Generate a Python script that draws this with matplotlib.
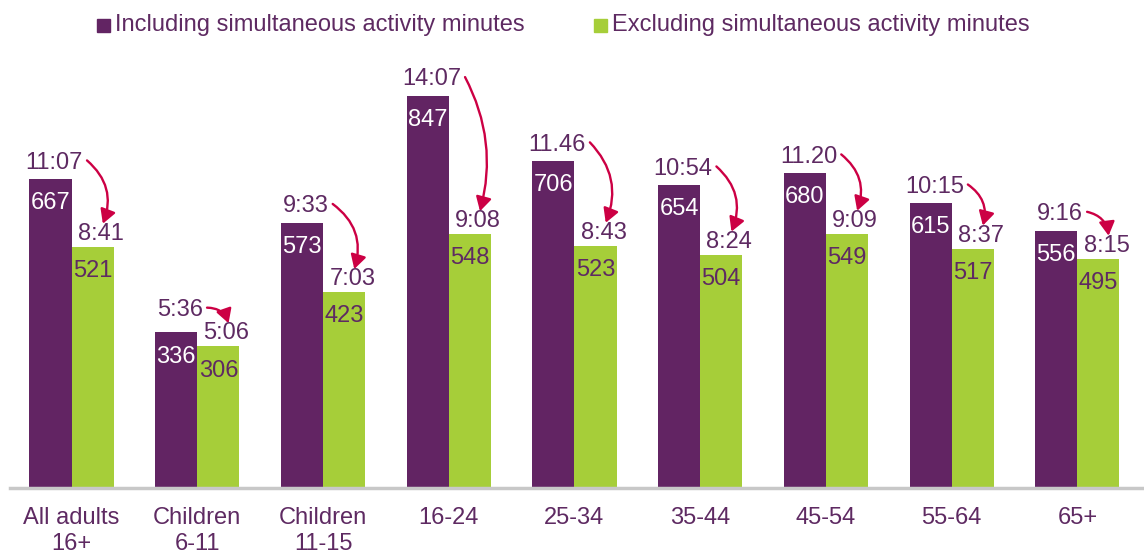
import matplotlib
matplotlib.use("Agg")
import matplotlib.pyplot as plt
from matplotlib.patches import Rectangle, FancyArrowPatch
import numpy as np

plt.rcParams['font.family'] = ['Liberation Sans', 'DejaVu Sans']

categories = ["All adults\n16+", "Children\n6-11", "Children\n11-15", "16-24",
              "25-34", "35-44", "45-54", "55-64", "65+"]
including = [667, 336, 573, 847, 706, 654, 680, 615, 556]
excluding = [521, 306, 423, 548, 523, 504, 549, 517, 495]
including_time = ["11:07", "5:36", "9:33", "14:07", "11.46", "10:54", "11.20", "10:15", "9:16"]
excluding_time = ["8:41", "5:06", "7:03", "9:08", "8:43", "8:24", "9:09", "8:37", "8:15"]
series_names = ["Including simultaneous activity minutes",
                "Excluding simultaneous activity minutes"]

PURPLE = "#622463"
GREEN = "#a6ce39"
TEXT = "#5e2a62"
ARROW = "#cc0044"
FS = 17

fig = plt.figure(figsize=(11.44, 5.54), dpi=100)
ax = fig.add_axes([10 / 1144, 66 / 554, 1 - 10 / 1144, 488 / 554])

x = np.arange(len(categories))
w = 0.335
ax.bar(x - w / 2, including, w, color=PURPLE)
ax.bar(x + w / 2, excluding, w, color=GREEN)

ax.set_xlim(-0.49, 8.53)
ax.set_ylim(0, 1054)
for s in ["top", "left", "right"]:
    ax.spines[s].set_visible(False)
ax.spines["bottom"].set_color("#c8c8c8")
ax.spines["bottom"].set_linewidth(2.5)
ax.set_yticks([])
ax.set_xticks(x)
ax.set_xticklabels(categories, fontsize=FS, color=TEXT, linespacing=1.23)
ax.tick_params(axis="x", length=0, pad=13.5)

# values inside the bars
for xi, v in zip(x, including):
    ax.annotate(str(v), (xi - w / 2, v), xytext=(0, -9.5), textcoords="offset points",
                ha="center", va="top", fontsize=FS, color="white")
for xi, v in zip(x, excluding):
    ax.annotate(str(v), (xi + w / 2, v), xytext=(0, -9.5), textcoords="offset points",
                ha="center", va="top", fontsize=FS, color=TEXT)

# time labels above the bars; an "including" label is lifted clear of the
# neighbouring "excluding" label when the two bars are close in height
exc_clear = 43
inc_labels = []
exc_labels = []
for xi, vi, ve, t in zip(x, including, excluding, including_time):
    y = max(vi, ve + exc_clear)
    inc_labels.append(ax.annotate(t, (xi - w / 2 + 0.03, y), xytext=(0, 4),
                                  textcoords="offset points", ha="center", va="bottom",
                                  fontsize=FS, color=TEXT))
for xi, v, t in zip(x, excluding, excluding_time):
    exc_labels.append(ax.annotate(t, (xi + w / 2 + 0.065, v), xytext=(0, 1.5),
                                  textcoords="offset points", ha="center", va="bottom",
                                  fontsize=FS, color=TEXT))

# curved arrows from each "including" time to its "excluding" time;
# long arrows get a flatter curve
fig.canvas.draw()
renderer = fig.canvas.get_renderer()
inv = ax.transData.inverted()
for ti, te in zip(inc_labels, exc_labels):
    bi = ti.get_window_extent(renderer)
    be = te.get_window_extent(renderer)
    p0 = np.array((bi.x1 + 4, bi.y0 + bi.height * 0.6))
    p1 = np.array(((be.x0 + be.x1) / 2 + 2, be.y1 - 1))
    chord = np.hypot(*(p1 - p0))
    rad = -0.35 * min(1.0, 75.0 / chord)
    arr = FancyArrowPatch(inv.transform(p0), inv.transform(p1),
                          connectionstyle=f"arc3,rad={rad:.3f}",
                          arrowstyle="-|>,head_length=0.8,head_width=0.45",
                          mutation_scale=10.5, color=ARROW, lw=1.7,
                          shrinkA=0, shrinkB=0)
    ax.add_patch(arr)

# legend
H = 554
W = 1144
for (sx, tx), col, name in zip([(97, 115), (594, 612)], [PURPLE, GREEN], series_names):
    fig.add_artist(Rectangle((sx / W, (H - 32) / H), 13 / W, 13 / H,
                             transform=fig.transFigure, color=col))
    fig.text(tx / W, (H - 25) / H, name, fontsize=FS, color=TEXT,
             ha="left", va="center")

fig.savefig("out.png", dpi=100)
